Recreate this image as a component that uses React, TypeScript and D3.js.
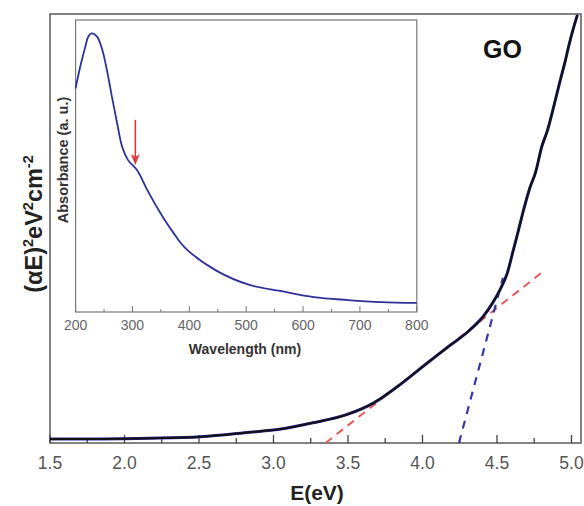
import React from "react";
import * as d3 from "d3";

// Main Tauc plot: photon energy (eV) vs (αE)^2 (arbitrary, normalised)
const energyEV = [1.5, 1.84, 2.17, 2.51, 2.84, 3.04, 3.265, 3.49, 3.67, 3.83, 4.03, 4.16, 4.32, 4.41, 4.47, 4.52, 4.57, 4.61, 4.64, 4.68, 4.72, 4.76, 4.8, 4.84, 4.88, 4.92, 4.96, 4.98, 5.01, 5.04];
const alphaE2 = [0.0093, 0.0095, 0.011, 0.0145, 0.025, 0.032, 0.047, 0.066, 0.093, 0.131, 0.186, 0.221, 0.264, 0.296, 0.326, 0.357, 0.397, 0.45, 0.49, 0.545, 0.594, 0.632, 0.69, 0.73, 0.783, 0.839, 0.893, 0.923, 0.963, 0.998];

// Linear fits (dashed)
const redFitE = [3.35, 4.81];
const redFitV = [0.0, 0.4];
const blueFitE = [4.245, 4.54];
const blueFitV = [0.0, 0.385];

const mainTicksMajor = [1.5, 2.0, 2.5, 3.0, 3.5, 4.0, 4.5, 5.0];
const mainTicksMinor = [1.75, 2.25, 2.75, 3.25, 3.75, 4.25, 4.75];

// Inset: UV-vis absorbance
const wavelengthNm = [200, 208, 217, 222, 228, 238, 247, 255, 264, 273, 282, 292, 308, 326, 349, 372, 393, 449, 507, 560, 619, 679, 737, 800];
const absorbance = [0.766, 0.839, 0.908, 0.942, 0.954, 0.942, 0.897, 0.829, 0.736, 0.647, 0.565, 0.521, 0.486, 0.418, 0.339, 0.271, 0.219, 0.14, 0.092, 0.072, 0.051, 0.041, 0.034, 0.031];
const insetTicksMajor = [200, 300, 400, 500, 600, 700, 800];
const insetTicksMinor = [250, 350, 450, 550, 650, 750];

const arrowWl = 305;
const arrowFrom = 0.658;
const arrowTo = 0.503;

const FONT = "Arial, 'Liberation Sans', Helvetica, sans-serif";

export default function App() {
  const W = 584, H = 506;
  const x = d3.scaleLinear().domain([1.5, 5.064]).range([50, 581]);
  const y = d3.scaleLinear().domain([0, 1]).range([443, 14]);

  const ix = d3.scaleLinear().domain([200, 800]).range([75.6, 416.8]);
  const iy = d3.scaleLinear().domain([0, 1]).range([312, 20]);

  const mainPts = energyEV.map((e, i) => [e, alphaE2[i]] as [number, number]);
  const mainLine = d3.line<[number, number]>().x(d => x(d[0])).y(d => y(d[1])).curve(d3.curveMonotoneX);
  const fitLine = d3.line<[number, number]>().x(d => x(d[0])).y(d => y(d[1]));

  const insetPts = wavelengthNm.map((w, i) => [w, absorbance[i]] as [number, number]);
  const insetLine = d3.line<[number, number]>().x(d => ix(d[0])).y(d => iy(d[1])).curve(d3.curveCatmullRom.alpha(0.5));

  const ax = ix(arrowWl);
  const aTip = iy(arrowTo);

  return (
    <svg width={W} height={H} style={{ position: "absolute", left: 0, top: 0, background: "#fff" }} fontFamily={FONT}>
      {/* main frame */}
      <rect x={50} y={14} width={531} height={429} fill="none" stroke="#5a5a5a" strokeWidth={1.5} />

      {/* main ticks */}
      {mainTicksMajor.map(t => (
        <g key={"M" + t}>
          <line x1={x(t)} x2={x(t)} y1={443} y2={435} stroke="#444" strokeWidth={1.3} />
          <text x={x(t)} y={469} textAnchor="middle" fontSize={17.5} fill="#555">{t.toFixed(1)}</text>
        </g>
      ))}
      {mainTicksMinor.map(t => (
        <line key={"m" + t} x1={x(t)} x2={x(t)} y1={443} y2={438} stroke="#444" strokeWidth={1.3} />
      ))}

      {/* axis titles */}
      <text x={317} y={500} textAnchor="middle" fontSize={21} fontWeight="bold" fill="#222">E(eV)</text>
      <text transform="translate(42,224) rotate(-90)" textAnchor="middle" fontSize={23.5} fontWeight="bold" fill="#222">
        (αE)<tspan dy={-9} fontSize={14.5}>2</tspan><tspan dy={9}>eV</tspan><tspan dy={-9} fontSize={14.5}>2</tspan><tspan dy={9}>cm</tspan><tspan dy={-9} fontSize={14.5}>-2</tspan>
      </text>
      <text x={483} y={58} fontSize={25} fontWeight="bold" fill="#111">GO</text>

      {/* fits */}
      <path d={fitLine(redFitE.map((e, i) => [e, redFitV[i]]) as any) || ""} fill="none" stroke="#e25a5a" strokeWidth={2} strokeDasharray="8,6" />
      <path d={fitLine(blueFitE.map((e, i) => [e, blueFitV[i]]) as any) || ""} fill="none" stroke="#3636a6" strokeWidth={2.2} strokeDasharray="8,7" />

      {/* main curve */}
      <path d={mainLine(mainPts) || ""} fill="none" stroke="#2a2aa0" strokeWidth={3} />
      <path d={mainLine(mainPts) || ""} fill="none" stroke="#111" strokeWidth={2} />

      {/* inset */}
      <rect x={75.6} y={20} width={341.2} height={292} fill="#fff" stroke="#777" strokeWidth={1.2} />
      {insetTicksMajor.map(t => (
        <g key={"I" + t}>
          <line x1={ix(t)} x2={ix(t)} y1={312} y2={306} stroke="#777" strokeWidth={1} />
          <text x={ix(t)} y={330} textAnchor="middle" fontSize={14} fill="#666">{t}</text>
        </g>
      ))}
      {insetTicksMinor.map(t => (
        <line key={"i" + t} x1={ix(t)} x2={ix(t)} y1={312} y2={309} stroke="#777" strokeWidth={1} />
      ))}
      <text x={245} y={354} textAnchor="middle" fontSize={14} fontWeight="bold" fill="#333">Wavelength (nm)</text>
      <text transform="translate(68,160) rotate(-90)" textAnchor="middle" fontSize={14.5} fontWeight="bold" fill="#333">Absorbance (a. u.)</text>
      <path d={insetLine(insetPts) || ""} fill="none" stroke="#30309a" strokeWidth={1.8} />
      <line x1={ax} x2={ax} y1={iy(arrowFrom)} y2={aTip - 8} stroke="#e03a3a" strokeWidth={1.6} />
      <path d={`M${ax - 4.5},${aTip - 11} L${ax},${aTip} L${ax + 4.5},${aTip - 11} L${ax},${aTip - 8} Z`} fill="#e03a3a" />
    </svg>
  );
}
